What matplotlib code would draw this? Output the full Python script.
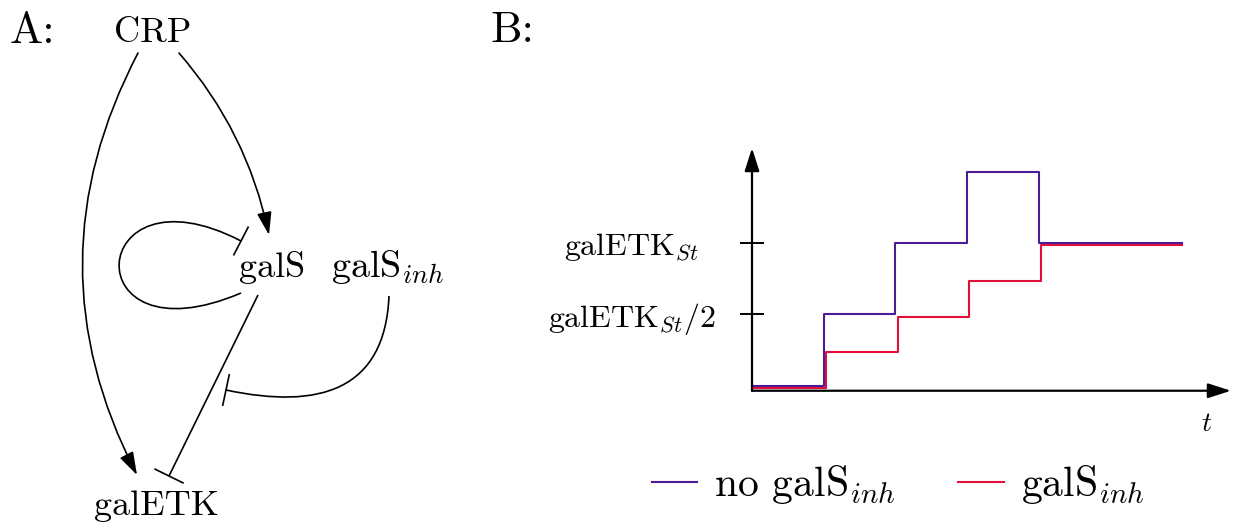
import matplotlib.pyplot as plt
import numpy as np
from matplotlib.path import Path
from matplotlib.patches import FancyArrowPatch, PathPatch

plt.rcParams['font.family'] = 'cmr10'
plt.rcParams['mathtext.fontset'] = 'cm'
plt.rcParams['axes.unicode_minus'] = False

# panel B: galETK level after each step, with and without galS_inh
t_no_inh = [0, 1, 2, 3, 4, 6]
level_no_inh = [0.0, 0.5, 1.0, 1.5, 1.0, 1.0]
t_inh = [0, 1.03, 2.03, 3.03, 4.03, 6]
level_inh = [-0.017, 0.233, 0.483, 0.733, 0.983, 0.983]
ytick_vals = [0.5, 1.0]
ytick_labels = [r'galETK$_{St}$/2', r'galETK$_{St}$']
series_labels = [r'no galS$_{inh}$', r'galS$_{inh}$']

# panel A: regulatory network
node_labels = ['CRP', 'galS', r'galS$_{inh}$', 'galETK']
edge_kinds = ['activate', 'activate', 'repress', 'repress', 'repress']

BLUE = '#4a1c96'
RED = '#e0103a'
W, H = 1236, 523

fig = plt.figure(figsize=(W / 100, H / 100), dpi=100)

# canvas in pixel coordinates for the network diagram
cv = fig.add_axes([0, 0, 1, 1])
cv.set_xlim(0, W)
cv.set_ylim(H, 0)
cv.axis('off')

cv.text(10, 43, 'A:', fontsize=32, ha='left', va='baseline')
cv.text(490, 42, 'B:', fontsize=32, ha='left', va='baseline')

node_pos = [(153, 42, 'center'), (272, 277, 'center'), (331, 277, 'left'), (156, 515, 'center')]
node_size = [26, 26, 27.5, 26]
for lbl, (x, y, ha), fs in zip(node_labels, node_pos, node_size):
    cv.text(x, y, lbl, fontsize=fs, ha=ha, va='baseline')

edge_paths = [
    ([(138, 53), (28, 263), (137, 475)], [Path.MOVETO, Path.CURVE3, Path.CURVE3]),
    ([(179, 53), (247, 131), (269, 235)], [Path.MOVETO, Path.CURVE3, Path.CURVE3]),
    ([(241, 293), (72, 365), (85, 160), (241, 241)],
     [Path.MOVETO, Path.CURVE4, Path.CURVE4, Path.CURVE4]),
    ([(258, 295), (169, 476)], [Path.MOVETO, Path.LINETO]),
    ([(389, 296), (385, 390), (320, 410), (226, 390)],
     [Path.MOVETO, Path.CURVE4, Path.CURVE4, Path.CURVE4]),
]

lw_net = 1.2
for kind, (verts, codes) in zip(edge_kinds, edge_paths):
    path = Path(verts, codes)
    if kind == 'activate':
        cv.add_patch(FancyArrowPatch(path=path, arrowstyle='-|>,head_length=1.0,head_width=0.32',
                                     mutation_scale=14, lw=lw_net, color='black'))
    else:
        cv.add_patch(PathPatch(path, fill=False, lw=lw_net, color='black'))
        end = np.array(verts[-1], float)
        d = end - np.array(verts[-2], float)
        d /= np.hypot(*d)
        n = np.array([-d[1], d[0]]) * 15.5
        cv.plot([end[0] - n[0], end[0] + n[0]], [end[1] - n[1], end[1] + n[1]],
                color='black', lw=lw_net)

# panel B: step plot
x0, x1, y_top, y_bot = 752, 1230, 148, 392
ax = fig.add_axes([x0 / W, 1 - y_bot / H, (x1 - x0) / W, (y_bot - y_top) / H])
ax.set_xlim(0, (x1 - x0) / 71.7)
ax.set_ylim((385.6 - y_bot) / 142.6, (385.6 - y_top) / 142.6)
for s in ax.spines.values():
    s.set_visible(False)

l1, = ax.step(t_no_inh, level_no_inh, where='post', color=BLUE, lw=1.5)
l2, = ax.step(t_inh, level_inh, where='post', color=RED, lw=1.5)

y_axis = -0.036
ax.annotate('', xy=(6.68, y_axis), xytext=(0, y_axis),
            arrowprops=dict(arrowstyle='-|>,head_length=1.0,head_width=0.32', mutation_scale=14,
                            lw=1.6, color='black', shrinkA=0, shrinkB=0), annotation_clip=False)
ax.annotate('', xy=(0, 1.666), xytext=(0, y_axis),
            arrowprops=dict(arrowstyle='-|>,head_length=1.0,head_width=0.32', mutation_scale=14,
                            lw=1.6, color='black', shrinkA=0, shrinkB=0), annotation_clip=False)

ax.set_xticks([])
ax.set_yticks(ytick_vals)
ax.set_yticklabels(ytick_labels, ha='center')
ax.tick_params(axis='y', direction='inout', length=17, width=1.4, pad=78, labelsize=23)

ax.text(6.346, -0.318, '$t$', fontsize=20, ha='center', va='baseline')

ax.legend([l1, l2], series_labels, ncol=2, loc='center',
          bbox_to_anchor=(898 / W, 1 - 485 / H), bbox_transform=fig.transFigure,
          frameon=False, fontsize=30, handlelength=1.1, handletextpad=0.4,
          columnspacing=1.5, borderpad=0, borderaxespad=0)

fig.savefig('out.png', dpi=100)
